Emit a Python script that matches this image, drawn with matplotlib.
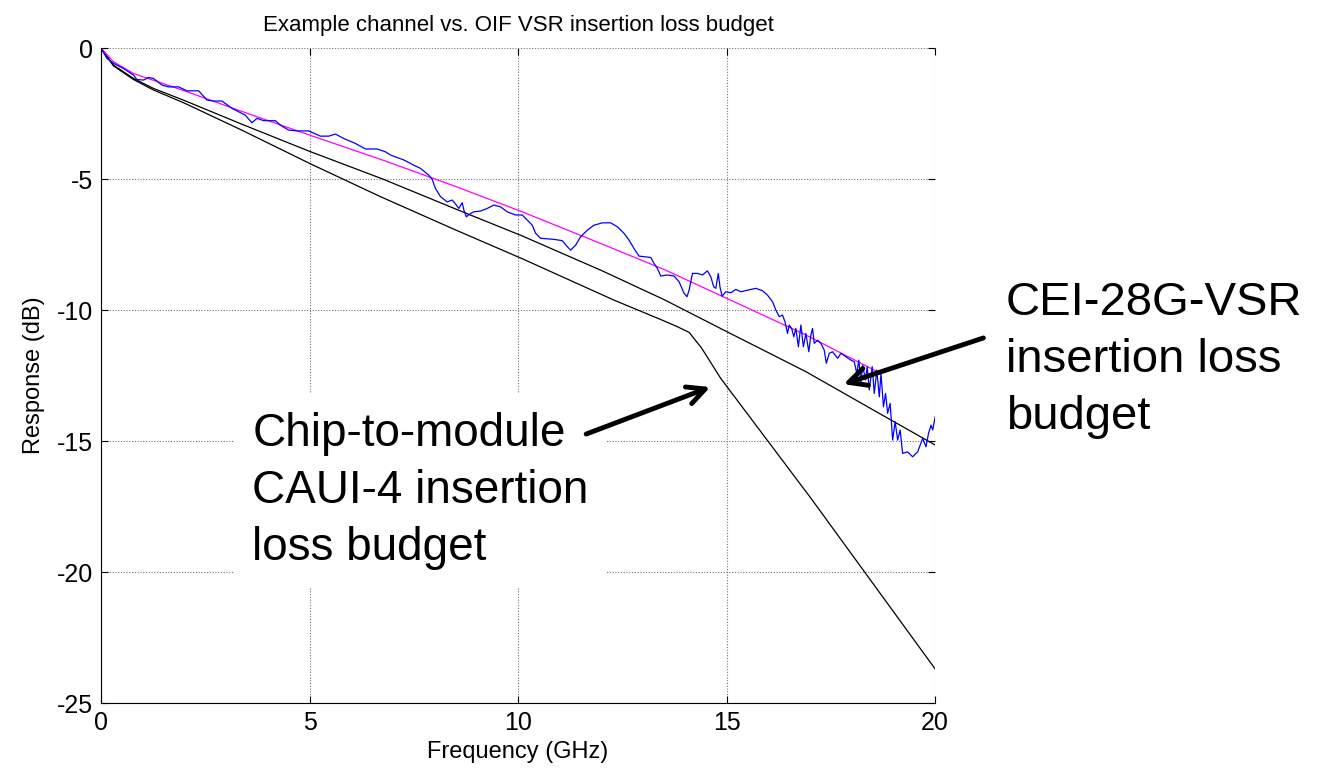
import matplotlib
matplotlib.use('Agg')
import matplotlib.pyplot as plt

plt.rcParams['font.family'] = ['Liberation Sans', 'DejaVu Sans']
plt.rcParams['axes.unicode_minus'] = False

# measured channel (blue)
chan_f = [0.0, 0.14, 0.30, 0.54, 0.78, 0.86, 1.02, 1.14, 1.26, 1.46, 1.62, 1.86, 2.06, 2.34,
          2.54, 2.70, 2.90, 3.14, 3.46, 3.62, 3.74, 3.90, 4.18, 4.30, 4.50, 4.70, 4.98, 5.26,
          5.46, 5.62, 5.82, 6.10, 6.34, 6.62, 6.82, 6.94, 7.26, 7.50, 7.66, 7.86, 7.94, 8.02,
          8.14, 8.30, 8.42, 8.50, 8.58, 8.66, 8.70, 8.76, 8.86, 8.94, 9.10, 9.26, 9.42, 9.58,
          9.74, 9.94, 10.10, 10.18, 10.34, 10.42, 10.54, 10.86, 11.06, 11.18, 11.26, 11.38,
          11.50, 11.66, 11.82, 12.02, 12.22, 12.38, 12.54, 12.66, 12.78, 12.90, 13.06, 13.18,
          13.26, 13.34, 13.42, 13.58, 13.74, 13.86, 13.98, 14.05, 14.10, 14.18, 14.30, 14.42,
          14.54, 14.62, 14.69, 14.74, 14.80, 14.84, 14.89, 14.98, 15.10, 15.22, 15.34, 15.50,
          15.70, 15.86, 15.98, 16.10, 16.18, 16.26, 16.34, 16.40, 16.46, 16.50, 16.56, 16.61,
          16.66, 16.72, 16.78, 16.84, 16.90, 16.97, 17.02, 17.06, 17.10, 17.18, 17.26, 17.34,
          17.39, 17.46, 17.54, 17.66, 17.74, 17.86, 17.98, 18.06, 18.12, 18.17, 18.22, 18.26,
          18.33, 18.37, 18.42, 18.49, 18.54, 18.60, 18.66, 18.70, 18.76, 18.81, 18.86, 18.92,
          18.98, 19.04, 19.10, 19.16, 19.22, 19.34, 19.46, 19.58, 19.70, 19.78, 19.84, 19.90,
          19.94, 20.00]
chan_db = [0.0, -0.39, -0.58, -0.78, -1.03, -1.20, -1.22, -1.12, -1.16, -1.41, -1.48, -1.48,
           -1.63, -1.63, -1.98, -2.02, -2.02, -2.30, -2.56, -2.85, -2.68, -2.77, -2.77, -2.94,
           -3.13, -3.16, -3.16, -3.36, -3.36, -3.28, -3.45, -3.64, -3.85, -3.85, -3.96, -4.08,
           -4.27, -4.47, -4.59, -4.85, -5.01, -5.36, -5.67, -5.87, -5.80, -5.95, -6.12, -5.90,
           -6.18, -6.44, -6.31, -6.25, -6.22, -6.12, -5.99, -6.06, -6.25, -6.37, -6.37, -6.50,
           -6.76, -7.07, -7.26, -7.30, -7.35, -7.58, -7.71, -7.52, -7.20, -6.95, -6.76, -6.67,
           -6.67, -6.82, -7.07, -7.33, -7.65, -7.94, -7.97, -7.99, -8.22, -8.41, -8.70, -8.66,
           -8.70, -8.92, -9.36, -9.49, -9.24, -8.60, -8.60, -8.66, -8.50, -8.73, -9.11, -9.17,
           -8.60, -9.11, -9.47, -9.30, -9.34, -9.21, -9.30, -9.24, -9.17, -9.26, -9.43, -9.68,
           -10.00, -10.25, -10.19, -10.45, -10.89, -10.57, -10.70, -11.02, -10.70, -11.40,
           -10.57, -11.40, -10.89, -11.59, -10.95, -10.70, -11.27, -11.15, -11.27, -11.53,
           -12.03, -11.65, -11.59, -11.84, -11.65, -11.78, -11.91, -11.97, -12.42, -11.91,
           -12.80, -12.10, -12.67, -12.16, -13.05, -12.16, -13.18, -12.29, -13.31, -12.42,
           -13.69, -13.18, -13.94, -13.56, -14.96, -14.26, -14.96, -14.58, -15.47, -15.41,
           -15.60, -15.41, -14.90, -15.22, -14.71, -14.39, -14.58, -14.07]

# fitted line (magenta)
fit_f = [0, 0.3, 0.78, 2, 3.4, 5, 6.8, 8.5, 10.1, 12, 13.5, 15, 16.9, 18.66]
fit_db = [0, -0.52, -0.97, -1.63, -2.43, -3.32, -4.30, -5.28, -6.25, -7.47, -8.45, -9.55,
          -10.95, -12.39]

# CEI-28G-VSR budget
vsr_f = [0, 0.3, 0.78, 1.26, 2, 3.4, 5, 6.76, 8.5, 10.1, 12, 13.5, 15, 16.9, 18.7, 20]
vsr_db = [0, -0.65, -1.16, -1.54, -2.0, -2.92, -3.94, -5.0, -6.14, -7.17, -8.49, -9.6,
          -10.82, -12.35, -13.98, -15.15]

# CAUI-4 chip-to-module budget
caui_f = [0, 0.3, 0.78, 1.26, 2, 3.4, 5, 6.7, 8.5, 10.1, 12.3, 13.42, 13.8, 14.1, 14.4,
          14.86, 17.02, 20]
caui_db = [0, -0.68, -1.2, -1.6, -2.1, -3.15, -4.4, -5.67, -6.94, -8.04, -9.62, -10.36,
           -10.62, -10.85, -11.45, -12.61, -17.18, -23.7]

xticks = [0, 5, 10, 15, 20]
yticks = [0, -5, -10, -15, -20, -25]

fig = plt.figure(figsize=(13.22, 7.76), dpi=100)
ax = fig.add_axes([0.0764, 0.094, 0.631, 0.844])

ax.plot(caui_f, caui_db, color='black', lw=0.9)
ax.plot(vsr_f, vsr_db, color='black', lw=0.9)
ax.plot(fit_f, fit_db, color='magenta', lw=0.9)
ax.plot(chan_f, chan_db, color='blue', lw=0.9)

ax.set_xlim(0, 20)
ax.set_ylim(-25, 0)
ax.set_xticks(xticks)
ax.set_yticks(yticks)
ax.grid(True, color='0.45', linestyle=(0, (1, 1.5)), lw=0.8)
ax.spines['top'].set_visible(False)
ax.spines['right'].set_visible(False)
ax.tick_params(direction='in', top=True, right=True, length=5, labelsize=18, pad=6)

ax.set_title('Example channel vs. OIF VSR insertion loss budget', fontsize=16, pad=12)
ax.set_xlabel('Frequency (GHz)', fontsize=17)
ax.set_ylabel('Response (dB)', fontsize=17, labelpad=8)

ax.text(3.63, -13.9, 'Chip-to-module\nCAUI-4 insertion\nloss budget', fontsize=33,
        ha='left', va='top', zorder=5, linespacing=1.38,
        bbox=dict(boxstyle='square,pad=0.4', fc='white', ec='none'))
ax.text(21.7, -8.9, 'CEI-28G-VSR\ninsertion loss\nbudget', fontsize=34,
        ha='left', va='top', clip_on=False, linespacing=1.38)

ax.annotate('', xy=(14.67, -12.9), xytext=(11.57, -14.77),
            arrowprops=dict(arrowstyle='->', lw=3.5, color='black', mutation_scale=32),
            zorder=6)
ax.annotate('', xy=(17.74, -12.86), xytext=(21.22, -11.03), annotation_clip=False,
            arrowprops=dict(arrowstyle='->', lw=3.5, color='black', mutation_scale=32),
            zorder=6)

fig.savefig('out.png', dpi=100)
